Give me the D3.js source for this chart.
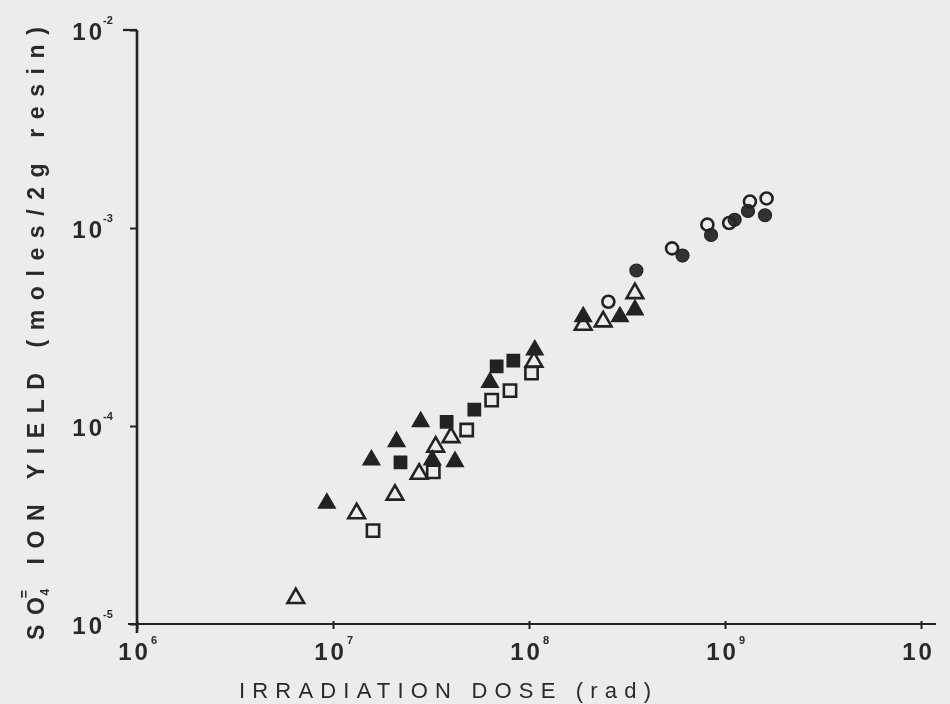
<!DOCTYPE html>
<html>
<head>
<meta charset="utf-8">
<script src="https://cdn.jsdelivr.net/npm/d3@7"></script>
<style>
  html, body { margin: 0; padding: 0; background: #ececea; }
  svg { display: block; }
  text { font-family: "Liberation Sans", Arial, sans-serif; fill: #2a2a2a; }
</style>
</head>
<body>
<script>
// ---- data ----
const xTicks = [1e6, 1e7, 1e8, 1e9, 1e10];
const xTickExp = ["6", "7", "8", "9", ""];
const yTicks = [1e-5, 1e-4, 1e-3, 1e-2];
const yTickExp = ["-5", "-4", "-3", "-2"];

const filledTriangles = [
  [9.3e6, 4.07e-5], [1.57e7, 6.73e-5], [2.11e7, 8.33e-5], [2.80e7, 1.05e-4],
  [3.21e7, 6.73e-5], [4.19e7, 6.61e-5], [6.32e7, 1.66e-4], [1.07e8, 2.42e-4],
  [1.89e8, 3.56e-4], [2.91e8, 3.56e-4], [3.47e8, 3.86e-4]
];
const openTriangles = [
  [6.46e6, 1.35e-5], [1.32e7, 3.62e-5], [2.07e7, 4.49e-5], [2.75e7, 5.73e-5],
  [3.34e7, 7.85e-5], [4.00e7, 8.77e-5], [1.06e8, 2.11e-4], [1.89e8, 3.24e-4],
  [2.39e8, 3.37e-4], [3.47e8, 4.68e-4]
];
const filledSquares = [
  [2.21e7, 6.56e-5], [3.80e7, 1.05e-4], [5.26e7, 1.21e-4], [6.84e7, 2.0e-4], [8.32e7, 2.14e-4]
];
const openSquares = [
  [1.60e7, 2.96e-5], [3.25e7, 5.87e-5], [4.81e7, 9.55e-5], [6.45e7, 1.35e-4],
  [8.0e7, 1.51e-4], [1.03e8, 1.85e-4]
];
const filledCircles = [
  [3.53e8, 6.10e-4], [6.07e8, 7.26e-4], [8.49e8, 9.22e-4], [1.12e9, 1.10e-3],
  [1.31e9, 1.22e-3], [1.60e9, 1.16e-3]
];
const openCircles = [
  [2.54e8, 4.24e-4], [5.37e8, 7.89e-4], [8.13e8, 1.04e-3], [1.05e9, 1.06e-3],
  [1.34e9, 1.36e-3], [1.63e9, 1.41e-3]
];

// ---- chart ----
const W = 950, H = 704;
const svg = d3.select("body").append("svg").attr("width", W).attr("height", H);
const defs = svg.append("defs");
defs.append("filter").attr("id", "blur").append("feGaussianBlur").attr("stdDeviation", 0.7);

svg.append("rect").attr("width", W).attr("height", H).attr("fill", "#ececea");
const g = svg.append("g").attr("filter", "url(#blur)");

const x = d3.scaleLog().domain([1e6, 1e10]).range([137, 921]);
const y = d3.scaleLog().domain([1e-5, 1e-2]).range([624, 30]);

const ink = "#222";

// axes
const yAxis = d3.axisLeft(y).tickValues(yTicks).tickSize(7).tickSizeOuter(0).tickFormat("");
const yg = g.append("g").attr("transform", `translate(${x(1e6)},0)`).call(yAxis);
yg.select(".domain").remove();
yg.selectAll(".tick line").attr("stroke", ink).attr("stroke-width", 2);
g.append("line").attr("x1", x(1e6)).attr("x2", x(1e6)).attr("y1", y(1e-2)).attr("y2", y(1e-5) + 9)
  .attr("stroke", ink).attr("stroke-width", 2.6);
g.append("line").attr("x1", x(1e6) - 14).attr("x2", x(1e6)).attr("y1", y(1e-2)).attr("y2", y(1e-2))
  .attr("stroke", ink).attr("stroke-width", 2.2);

const xAxis = d3.axisBottom(x).tickValues(xTicks).tickSize(5).tickSizeOuter(0).tickFormat("");
const xg = g.append("g").attr("transform", `translate(0,${y(1e-5)})`).call(xAxis);
xg.select(".domain").remove();
xg.selectAll(".tick line").attr("stroke", ink).attr("stroke-width", 2).attr("y1", -3);
g.append("line").attr("x1", x(1e6) - 9).attr("x2", 936).attr("y1", y(1e-5)).attr("y2", y(1e-5))
  .attr("stroke", ink).attr("stroke-width", 2.2);

// y tick labels
yTicks.forEach((v, i) => {
  const t = g.append("text").attr("x", 102).attr("y", y(v) + 10)
    .attr("text-anchor", "end").attr("font-size", 24).attr("font-weight", "bold");
  t.append("tspan").text("1").attr("letter-spacing", 3);
  t.append("tspan").text("0");
  g.append("text").attr("x", 103).attr("y", y(v) - 6)
    .attr("font-size", 11).attr("font-weight", "bold").text(yTickExp[i]);
});

// x tick labels
xTicks.forEach((v, i) => {
  const t = g.append("text").attr("x", x(v) - 4).attr("y", y(1e-5) + 36)
    .attr("text-anchor", "middle").attr("font-size", 24).attr("font-weight", "bold");
  t.append("tspan").text("1").attr("letter-spacing", 3);
  t.append("tspan").text("0");
  if (xTickExp[i]) {
    g.append("text").attr("x", x(v) + 14).attr("y", y(1e-5) + 20)
      .attr("font-size", 11).attr("font-weight", "bold").text(xTickExp[i]);
  }
});

// axis titles
g.append("text").attr("x", 445).attr("y", 698).attr("text-anchor", "middle")
  .attr("font-size", 22).attr("textLength", 412).attr("lengthAdjust", "spacing")
  .text("IRRADIATION DOSE (rad)");

const yt = g.append("text").attr("transform", "translate(44,640) rotate(-90)")
  .attr("font-size", 23).attr("font-weight", "bold").attr("letter-spacing", 9.6);
yt.append("tspan").text("SO");
yt.append("tspan").attr("font-size", 12).attr("dy", 5).attr("dx", -8).text("4");
yt.append("tspan").attr("font-size", 14).attr("dy", -20).attr("dx", -19).text("=");
yt.append("tspan").attr("dy", 15).attr("dx", 0).text(" ION YIELD (moles/2g resin)");

// markers
const tri = d3.symbol().type(d3.symbolTriangle).size(120);
const sq = d3.symbol().type(d3.symbolSquare).size(150);

function drawSym(data, gen, filled, cls) {
  g.selectAll("path." + cls).data(data).join("path").attr("class", cls)
    .attr("d", gen)
    .attr("transform", d => `translate(${x(d[0])},${y(d[1])})`)
    .attr("fill", filled ? ink : "none")
    .attr("stroke", ink).attr("stroke-width", filled ? 1.5 : 2.6);
}
function drawCirc(data, filled, cls) {
  g.selectAll("circle." + cls).data(data).join("circle").attr("class", cls)
    .attr("cx", d => x(d[0])).attr("cy", d => y(d[1])).attr("r", filled ? 6.5 : 6)
    .attr("fill", filled ? "#333" : "none")
    .attr("stroke", ink).attr("stroke-width", filled ? 1.2 : 2.6);
}
drawSym(openSquares, sq, false, "osq");
drawSym(filledSquares, sq, true, "fsq");
drawSym(openTriangles, tri, false, "otr");
drawSym(filledTriangles, tri, true, "ftr");
drawCirc(filledCircles, true, "fc");
drawCirc(openCircles, false, "oc");
</script>
</body>
</html>
